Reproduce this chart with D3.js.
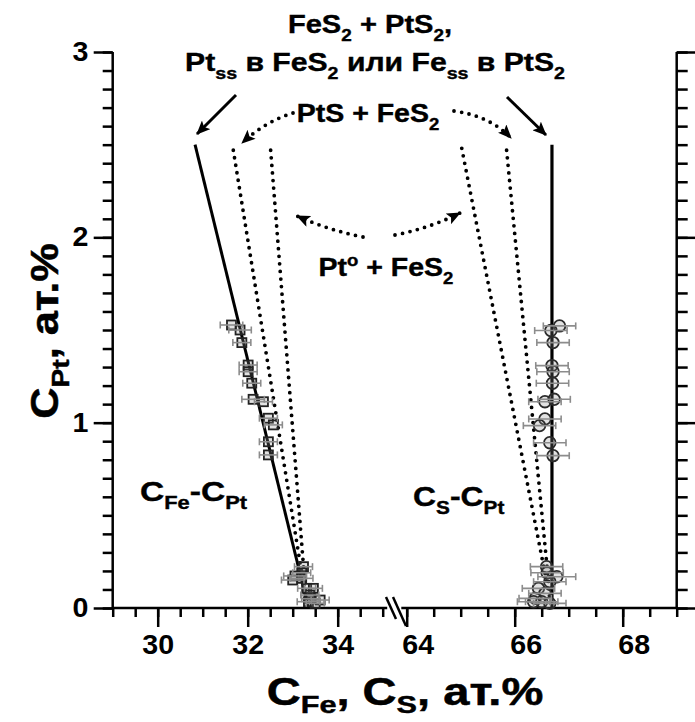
<!DOCTYPE html>
<html><head><meta charset="utf-8">
<script src="https://cdn.jsdelivr.net/npm/d3@7"></script>
<style>
body{margin:0;background:#fff}
svg{display:block}
text{font-family:"Liberation Sans",Arial,sans-serif;font-weight:bold;fill:#000}
</style>
</head><body>
<svg id="c" width="695" height="722"></svg>
<script>
// ---------- data ----------
const yTicks = [0, 1, 2, 3];
const feTicks = [30, 32, 34];
const sTicks = [64, 66, 68];
// C_Fe, C_Pt, error (at.%)
const feData = [
  [31.64,1.527,0.25],[31.83,1.50,0.25],[31.87,1.432,0.20],[32.01,1.311,0.20],
  [32.01,1.275,0.20],[32.09,1.213,0.20],[32.12,1.126,0.25],[32.35,1.113,0.20],
  [32.46,1.024,0.20],[32.57,0.988,0.20],[32.46,0.897,0.20],[32.46,0.826,0.20],
  [33.24,0.223,0.20],[33.20,0.190,0.20],[33.05,0.173,0.25],[33.00,0.151,0.25],
  [33.20,0.160,0.25],[33.31,0.106,0.20],[33.46,0.106,0.20],[33.38,0.070,0.20],
  [33.61,0.043,0.20],[33.35,0.034,0.25],[33.50,0.025,0.20],[33.40,0.050,0.20]
];
// C_S, C_Pt, error (at.%)
const sData = [
  [66.83,1.522,0.30],[66.67,1.497,0.30],[66.71,1.432,0.30],[66.69,1.308,0.30],
  [66.71,1.275,0.30],[66.70,1.213,0.30],[66.56,1.113,0.30],[66.73,1.126,0.30],
  [66.56,1.020,0.30],[66.46,0.984,0.30],[66.65,0.892,0.30],[66.71,0.822,0.30],
  [66.59,0.223,0.30],[66.60,0.190,0.30],[66.78,0.169,0.35],[66.65,0.142,0.30],
  [66.44,0.106,0.30],[66.56,0.079,0.30],[66.38,0.052,0.30],[66.50,0.034,0.30],
  [66.65,0.025,0.30],[66.35,0.034,0.30]
];
// boundary lines
const feSolid = [[30.83,2.50],[33.35,0.00]];
const feDot1  = [[31.68,2.47],[33.30,0.04]];
const feDot2  = [[32.51,2.47],[33.30,0.04]];
const sSolid  = [[66.69,2.50],[66.69,0.00]];
const sDot1   = [[65.02,2.48],[66.66,0.04]];
const sDot2   = [[65.85,2.47],[66.66,0.04]];

// ---------- scales ----------
const svg = d3.select("#c");
const y  = d3.scaleLinear().domain([0,3]).range([608,52]);
const xL = d3.scaleLinear().domain([29,35]).range([112.7,382.7]);
const xR = d3.scaleLinear().domain([64,69]).range([406.7,676.7]);

// markers
const defs = svg.append("defs");
defs.append("marker").attr("id","ah").attr("viewBox","0 0 14 12")
  .attr("refX",13).attr("refY",6).attr("markerWidth",14).attr("markerHeight",12)
  .attr("markerUnits","userSpaceOnUse").attr("orient","auto")
  .append("path").attr("d","M0,0 L14,6 L0,12 L3,6 Z").attr("fill","#000");

// ---------- axes ----------
function styleAxis(g){
  g.selectAll(".domain").remove();
  g.selectAll("line").attr("stroke","#000").attr("stroke-width",2.5);
  g.selectAll("text").attr("font-size",27).attr("font-family","Liberation Sans, Arial, sans-serif").attr("font-weight","bold");
}
const minorY = d3.range(0,31).map(d=>d/10);
// left y
svg.append("g").attr("transform","translate(112.7,0)")
  .call(d3.axisLeft(y).tickValues(minorY).tickSize(10).tickFormat("")).call(styleAxis);
svg.append("g").attr("transform","translate(112.7,0)")
  .call(d3.axisLeft(y).tickValues(yTicks).tickSize(19).tickPadding(4).tickFormat(d3.format("d"))).call(styleAxis)
  .selectAll("text").attr("transform","scale(1.06,1)");
// right y
svg.append("g").attr("transform","translate(676.7,0)")
  .call(d3.axisRight(y).tickValues(minorY).tickSize(11).tickFormat("")).call(styleAxis);
svg.append("g").attr("transform","translate(676.7,0)")
  .call(d3.axisRight(y).tickValues(yTicks).tickSize(19).tickFormat("")).call(styleAxis);
// bottom left
svg.append("g").attr("transform","translate(0,608)")
  .call(d3.axisBottom(xL).tickValues(d3.range(29,35.01,0.5)).tickSize(9).tickFormat("")).call(styleAxis);
svg.append("g").attr("transform","translate(0,608)")
  .call(d3.axisBottom(xL).tickValues(feTicks).tickSize(19).tickPadding(8).tickFormat(d3.format("d"))).call(styleAxis)
  .selectAll("text").attr("transform","scale(1.06,1)");
// bottom right
svg.append("g").attr("transform","translate(0,608)")
  .call(d3.axisBottom(xR).tickValues(d3.range(64,69.01,0.5)).tickSize(9).tickFormat("")).call(styleAxis);
svg.append("g").attr("transform","translate(0,608)")
  .call(d3.axisBottom(xR).tickValues(sTicks).tickSize(19).tickPadding(8).tickFormat(d3.format("d"))).call(styleAxis)
  .selectAll("text").attr("transform","translate(11,0) scale(1.06,1)");

// axis lines
const axL = svg.append("g").attr("stroke","#000").attr("stroke-width",2.5).attr("fill","none");
axL.append("line").attr("x1",xL(29)).attr("x2",xL(29)).attr("y1",y(3)).attr("y2",y(0));
axL.append("line").attr("x1",xR(69)).attr("x2",xR(69)).attr("y1",y(3)).attr("y2",y(0));
axL.append("line").attr("x1",xL(29)).attr("x2",xL(35.1)).attr("y1",y(0)).attr("y2",y(0));
axL.append("line").attr("x1",xR(63.9)).attr("x2",xR(69)).attr("y1",y(0)).attr("y2",y(0));
// break marks
axL.append("line").attr("x1",386).attr("y1",597).attr("x2",396).attr("y2",619);
axL.append("line").attr("x1",393).attr("y1",597).attr("x2",406).attr("y2",626);

// ---------- boundary lines ----------
const lineL = d3.line().x(d=>xL(d[0])).y(d=>y(d[1]));
const lineR = d3.line().x(d=>xR(d[0])).y(d=>y(d[1]));
const dotted = s=>s.attr("fill","none").attr("stroke","#000").attr("stroke-width",3.8)
   .attr("stroke-linecap","round").attr("stroke-dasharray","0 7.6");
svg.append("path").attr("d",lineL(feDot1)).call(dotted);
svg.append("path").attr("d",lineL(feDot2)).call(dotted);
svg.append("path").attr("d",lineR(sDot1)).call(dotted);
svg.append("path").attr("d",lineR(sDot2)).call(dotted);
svg.append("path").attr("d",lineL(feSolid)).attr("stroke","#000").attr("stroke-width",3).attr("fill","none");
svg.append("path").attr("d",lineR(sSolid)).attr("stroke","#000").attr("stroke-width",3.2).attr("fill","none");

// ---------- data points ----------
function errBars(g, data, xs){
  const e = g.append("g").attr("stroke","#8c8c8c").attr("stroke-width",1.6).attr("fill","none");
  data.forEach(d=>{
    const x0=xs(d[0]-d[2]), x1=xs(d[0]+d[2]), yy=y(d[1]);
    e.append("line").attr("x1",x0).attr("x2",x1).attr("y1",yy).attr("y2",yy);
    e.append("line").attr("x1",x0).attr("x2",x0).attr("y1",yy-3.5).attr("y2",yy+3.5);
    e.append("line").attr("x1",x1).attr("x2",x1).attr("y1",yy-3.5).attr("y2",yy+3.5);
  });
}
const gL = svg.append("g");
gL.selectAll("rect").data(feData).join("rect")
  .attr("x",d=>xL(d[0])-4.5).attr("y",d=>y(d[1])-4.5).attr("width",9).attr("height",9)
  .attr("fill","rgba(140,140,140,0.25)").attr("stroke","#222").attr("stroke-width",1.8);
errBars(gL, feData, xL);
const gR = svg.append("g");
gR.selectAll("circle").data(sData).join("circle")
  .attr("cx",d=>xR(d[0])).attr("cy",d=>y(d[1])).attr("r",5.8)
  .attr("fill","rgba(140,140,140,0.25)").attr("stroke","#2a2a2a").attr("stroke-width",1.8);
errBars(gR, sData, xR);

// ---------- arrows ----------
const arr = svg.append("g");
arr.append("line").attr("x1",236).attr("y1",95).attr("x2",197).attr("y2",134)
  .attr("stroke","#000").attr("stroke-width",3).attr("marker-end","url(#ah)");
arr.append("line").attr("x1",507).attr("y1",97).attr("x2",546).attr("y2",135)
  .attr("stroke","#000").attr("stroke-width",3).attr("marker-end","url(#ah)");
[["M293,113 Q266,121 242,143"],["M454,111 Q490,116 511,138"],
 ["M363,237 Q328,230 297,216"],["M395,235 Q430,228 460,213"]].forEach(p=>{
  arr.append("path").attr("d",p[0]).call(dotted).attr("marker-end","url(#ah)");
});

// ---------- texts ----------
function rich(x, yy, segs, o){
  const size=o.size, sx=o.sx||1, sub=o.sub||0.3;
  const g=svg.append("g").attr("transform",`translate(${x},${yy})${o.rot?` rotate(${o.rot})`:""} scale(${sx},1)`);
  const t=g.append("text").attr("text-anchor",o.anchor||"middle").attr("font-size",size)
    .attr("stroke","#000").attr("stroke-width",o.sw||0.4);
  let off=0;
  segs.forEach(s=>{
    const target = s[1]==="sub"? sub*size : s[1]==="sup"? -0.42*size : 0;
    const ts=t.append("tspan").text(s[0]).attr("dy",target-off);
    if(s[1]) ts.attr("font-size",size*0.65);
    off=target;
  });
}
rich(370,33,[["FeS"],["2","sub"],[" + PtS"],["2","sub"],[","]],{size:26,sx:1.12});
rich(375,71,[["Pt"],["ss","sub"],[" в FeS"],["2","sub"],[" или Fe"],["ss","sub"],[" в PtS"],["2","sub"]],{size:26,sx:1.16});
rich(368,122,[["PtS + FeS"],["2","sub"]],{size:25,sx:1.14});
rich(386,276,[["Pt"],["o","sup"],[" + FeS"],["2","sub"]],{size:25,sx:1.14});
rich(140,501,[["C"],["Fe","sub"],["-C"],["Pt","sub"]],{size:28,sx:1.2,anchor:"start"});
rich(413,506,[["C"],["S","sub"],["-C"],["Pt","sub"]],{size:28,sx:1.14,anchor:"start"});
rich(405,705,[["C"],["Fe","sub"],[", C"],["S","sub"],[", ат.%"]],{size:38,sx:1.24,sw:0.5,sub:0.2});
rich(58,331,[["C"],["Pt","sub"],[", ат.%"]],{size:38,sx:1.14,rot:-90,sw:0.5});
</script>
</body></html>
